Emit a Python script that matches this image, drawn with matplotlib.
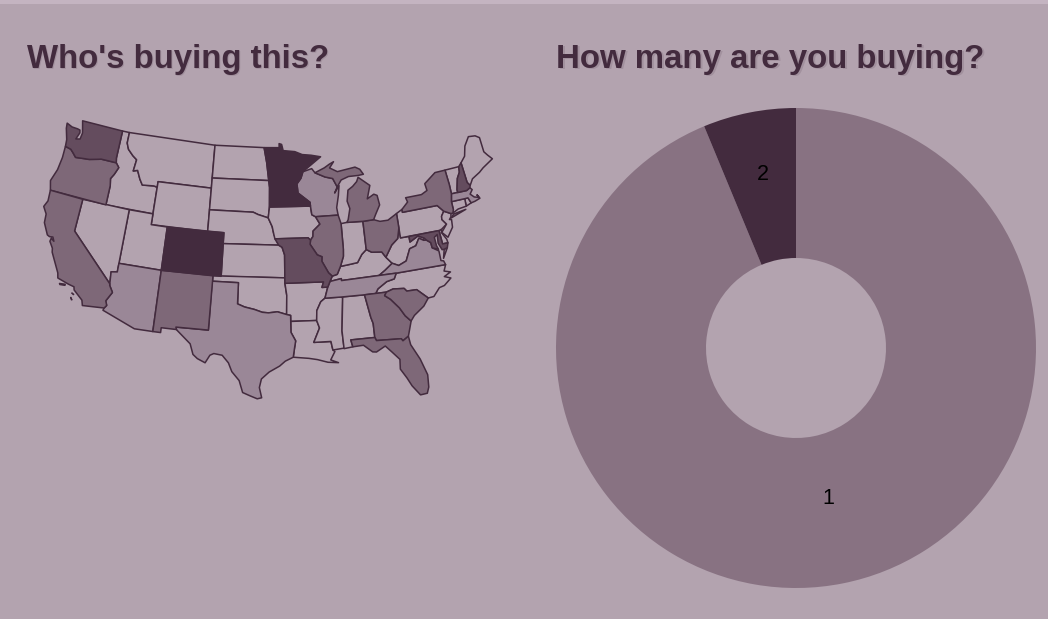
# coding: utf-8

import numpy as np
import matplotlib.pyplot as plt

BG = "#b3a3af"
DARK = "#432b3e"

# Titres et donnut
titles = ["Who's buying this?", "How many are you buying?"]
pie_labels = ["1", "2"]
pie_values = [15, 1]

# Contours des etats (lon, lat), lus a la main
WA = [(-124.7,48.38),(-123.9,48.17),(-123.1,48.15),(-122.75,48.1),(-122.65,47.85),(-122.95,47.2),(-122.4,47.3),(-122.3,47.9),(-122.5,48.4),(-122.75,49),(-117.03,49),(-117.04,46.42),(-116.92,45.99),(-118.98,46),(-119.3,45.93),(-120.5,45.7),(-121.2,45.65),(-122.3,45.55),(-122.8,45.9),(-123.2,46.15),(-124,46.27),(-124.1,46.9),(-124.6,47.9)]
OR = [(-124,46.27),(-123.2,46.15),(-122.8,45.9),(-122.3,45.55),(-121.2,45.65),(-120.5,45.7),(-119.3,45.93),(-118.98,46),(-116.92,45.99),(-116.46,45.6),(-116.85,44.9),(-117.2,44.45),(-117.03,43.8),(-117.03,42),(-124.2,42),(-124.55,42.85),(-124.1,44),(-123.95,45.2)]
ID = [(-117.03,49),(-116.05,49),(-116.05,48),(-115.7,47.45),(-114.95,46.95),(-114.35,46.65),(-114.5,45.57),(-113.95,45.7),(-113.45,44.95),(-113,44.45),(-111.5,44.55),(-111.05,44.48),(-111.05,42),(-117.03,42),(-117.03,43.8),(-117.2,44.45),(-116.85,44.9),(-116.46,45.6),(-116.92,45.99),(-117.04,46.42)]
MT = [(-116.05,49),(-104.05,49),(-104.05,45),(-111.05,45),(-111.05,44.48),(-111.5,44.55),(-113,44.45),(-113.45,44.95),(-113.95,45.7),(-114.5,45.57),(-114.35,46.65),(-114.95,46.95),(-115.7,47.45),(-116.05,48)]
WY = [(-111.05,45),(-104.05,45),(-104.05,41),(-111.05,41)]
ND = [(-104.05,49),(-97.23,49),(-96.85,47.6),(-96.56,45.94),(-104.05,45.94)]
SD = [(-104.05,45.94),(-96.56,45.94),(-96.45,45.3),(-96.45,43.5),(-96.6,42.5),(-97.9,42.8),(-98.5,43),(-104.05,43)]
NE = [(-104.05,43),(-98.5,43),(-97.9,42.8),(-96.6,42.5),(-96.1,41.7),(-95.9,41),(-95.31,40),(-102.05,40),(-102.05,41),(-104.05,41)]
KS = [(-102.05,40),(-95.31,40),(-94.9,39.8),(-94.61,39.1),(-94.62,37),(-102.04,37)]
OK = [(-103,37),(-94.62,37),(-94.62,36.5),(-94.43,35.4),(-94.48,33.64),(-95.5,33.9),(-96.5,33.8),(-97.2,33.85),(-98.1,34.1),(-99.2,34.3),(-100,34.56),(-100,36.5),(-103,36.5)]
TX = [(-103.04,36.5),(-100,36.5),(-100,34.56),(-99.2,34.3),(-98.1,34.1),(-97.2,33.85),(-96.5,33.8),(-95.5,33.9),(-94.48,33.64),(-94.04,33.55),(-94.04,32),(-93.55,31.2),(-93.7,30.5),(-93.85,29.7),(-94.7,29.35),(-95.3,28.9),(-96.4,28.35),(-97.2,27.7),(-97.4,26.9),(-97.15,25.95),(-97.6,25.85),(-98.3,26.1),(-99.1,26.4),(-99.5,27.5),(-100.3,28.3),(-100.7,29.1),(-101.4,29.77),(-102.3,29.88),(-102.7,29.7),(-103.15,28.97),(-104,29.3),(-104.5,29.65),(-104.9,30.6),(-106.5,31.75),(-106.62,32),(-103.06,32)]
NM = [(-109.05,37),(-103,37),(-103,36.5),(-103.06,32),(-106.62,32),(-106.53,31.78),(-108.2,31.78),(-108.2,31.33),(-109.05,31.33)]
CO = [(-109.05,41),(-102.05,41),(-102.05,37),(-109.05,37)]
UT = [(-114.05,42),(-111.05,42),(-111.05,41),(-109.05,41),(-109.05,37),(-114.05,37)]
AZ = [(-114.05,37),(-109.05,37),(-109.05,31.33),(-111.07,31.33),(-114.8,32.5),(-114.72,32.72),(-114.5,33),(-114.7,33.4),(-114.15,34.27),(-114.6,34.85),(-114.63,35),(-114.75,36.1),(-114.05,36.2)]
NV = [(-120,42),(-114.05,42),(-114.05,36.2),(-114.75,36.1),(-114.63,35),(-120,39)]
CA = [(-124.2,42),(-120,42),(-120,39),(-114.63,35),(-114.6,34.85),(-114.15,34.27),(-114.7,33.4),(-114.5,33),(-114.72,32.72),(-117.12,32.53),(-117.3,33),(-118.4,33.75),(-118.5,34.03),(-119.2,34.15),(-120.5,34.45),(-120.65,34.9),(-121.9,36.6),(-122,36.95),(-122.5,37.5),(-122.45,37.8),(-122.05,37.6),(-122.3,37.95),(-122.7,37.9),(-123,38),(-123.75,39),(-123.85,39.8),(-124.4,40.4),(-124.1,41)]
CA_ISLAND_1 = [(-120.2,34.02),(-119.5,34.08),(-119.5,33.95),(-120.1,33.9)]
CA_ISLAND_2 = [(-118.6,33.45),(-118.3,33.35),(-118.35,33.3)]
CA_ISLAND_3 = [(-118.6,33.05),(-118.35,32.82),(-118.45,32.8)]
MN = [(-97.23,49),(-95.15,49),(-95.15,49.38),(-94.8,49.3),(-94.6,48.72),(-93,48.6),(-92,48.3),(-90.8,48.2),(-89.5,48),(-92,46.7),(-92.3,46.1),(-92.85,45.6),(-92.75,44.75),(-91.25,43.85),(-91.22,43.5),(-96.45,43.5),(-96.45,45.3),(-96.56,45.94),(-96.85,47.6)]
IA = [(-96.45,43.5),(-91.22,43.5),(-91.1,42.7),(-90.65,42.5),(-90.15,41.8),(-91.05,41.2),(-91.1,40.7),(-91.42,40.38),(-91.7,40.6),(-95.77,40.58),(-95.9,41),(-96.1,41.7),(-96.6,42.5)]
MO = [(-95.77,40.58),(-91.7,40.6),(-91.42,40.38),(-91.5,40),(-90.7,39),(-90.15,38.8),(-90.2,38.4),(-89.5,37.3),(-89.1,36.97),(-89.4,36.5),(-89.7,36),(-90.37,36),(-90.15,36.5),(-94.62,36.5),(-94.62,37),(-94.61,39.1),(-94.9,39.8),(-95.31,40)]
AR = [(-94.62,36.5),(-90.15,36.5),(-90.37,36),(-89.7,36),(-90.1,35),(-90.6,34.7),(-91.1,33.9),(-91.17,33),(-94.04,33),(-94.04,33.55),(-94.48,33.64),(-94.43,35.4)]
LA = [(-94.04,33),(-91.17,33),(-90.9,32.3),(-91.6,31),(-89.75,31),(-89.6,30.2),(-89.4,30.05),(-89.9,29.3),(-89.1,29),(-90.2,29.1),(-91.3,29.4),(-92.2,29.55),(-93.85,29.7),(-93.7,30.5),(-93.55,31.2),(-94.04,32)]
MS = [(-90.1,35),(-88.2,35),(-88.1,34.9),(-88.47,31.9),(-88.4,30.3),(-89.6,30.2),(-89.75,31),(-91.6,31),(-90.9,32.3),(-91.17,33),(-91.1,33.9),(-90.6,34.7)]
AL = [(-88.2,35),(-85.6,35),(-85.18,32.87),(-85,32.3),(-85,31),(-87.6,31),(-87.45,30.35),(-88.4,30.25),(-88.47,31.9),(-88.1,34.9)]
GA = [(-85.6,35),(-83.1,35),(-83.35,34.7),(-82.75,34.3),(-81.9,33.4),(-81.4,32.6),(-80.85,32.05),(-81.4,30.7),(-82.05,30.36),(-82.2,30.57),(-84.86,30.7),(-85,31),(-85,32.3),(-85.18,32.87)]
FL = [(-87.6,31),(-85,31),(-84.86,30.7),(-82.2,30.57),(-82.05,30.36),(-81.4,30.7),(-81.3,29.9),(-80.55,28.45),(-80.05,26.9),(-80.15,25.75),(-80.4,25.2),(-81.1,25.15),(-81.8,26.1),(-82.2,26.9),(-82.75,27.8),(-82.65,28.7),(-83.4,29.5),(-84,30.1),(-85,29.65),(-85.4,29.7),(-86.3,30.4),(-87.45,30.35)]
SC = [(-83.1,35),(-82.3,35.2),(-81.05,35.1),(-80.8,34.82),(-79.67,34.8),(-78.55,33.86),(-79.2,33.2),(-80.4,32.5),(-80.85,32.05),(-81.4,32.6),(-81.9,33.4),(-82.75,34.3),(-83.35,34.7)]
NC = [(-84.32,35),(-83.1,35),(-82.3,35.2),(-81.05,35.1),(-80.8,34.82),(-79.67,34.8),(-78.55,33.86),(-77.9,33.9),(-77.1,34.6),(-76.5,34.7),(-75.6,35.25),(-76.3,35.5),(-75.5,35.8),(-76.2,36),(-75.87,36.55),(-81.68,36.59),(-82,36.1),(-82.9,35.95),(-84,35.4)]
TN = [(-90.1,35),(-88.2,35),(-85.6,35),(-84.32,35),(-84,35.4),(-82.9,35.95),(-82,36.1),(-81.68,36.59),(-83.68,36.6),(-88.07,36.5),(-88.07,36.68),(-89.4,36.5),(-89.7,36)]
KY = [(-89.4,36.5),(-88.07,36.68),(-88.07,36.5),(-83.68,36.6),(-82.9,37),(-81.97,37.54),(-82.6,38.17),(-83,38.7),(-84.2,38.8),(-84.8,39.1),(-85.4,38.7),(-86,38),(-87,37.9),(-88.05,37.8),(-88.5,37.1),(-89.1,36.97)]
VA = [(-83.68,36.6),(-81.68,36.59),(-75.87,36.55),(-76,36.92),(-76.3,37),(-76.3,37.9),(-77,38.3),(-77.05,38.8),(-77.5,39.1),(-77.83,39.13),(-78.35,39.4),(-78.87,38.77),(-79.65,38.6),(-80.3,37.55),(-81.25,37.25),(-81.97,37.54),(-82.9,37)]
VA_SHORE = [(-75.95,37.15),(-75.25,38.03),(-75.65,37.95)]
WV = [(-81.97,37.54),(-81.25,37.25),(-80.3,37.55),(-79.65,38.6),(-78.87,38.77),(-78.35,39.4),(-77.83,39.13),(-77.72,39.32),(-78.4,39.62),(-79.48,39.2),(-79.48,39.72),(-80.52,39.72),(-80.52,40.64),(-80.87,39.7),(-81.7,39.2),(-82.6,38.17)]
MD = [(-79.48,39.72),(-75.79,39.72),(-75.7,38.46),(-75.05,38.45),(-75.25,38.03),(-75.65,37.95),(-75.9,37.95),(-76.2,38.6),(-76.1,39.4),(-76.5,39.2),(-76.45,38.4),(-76.3,38.05),(-77,38.3),(-77.05,38.8),(-77.5,39.1),(-77.72,39.32),(-78.4,39.62),(-79.48,39.2)]
DE = [(-75.79,39.72),(-75.42,39.8),(-75.55,39.5),(-75.1,38.8),(-75.05,38.45),(-75.7,38.46)]
PA = [(-80.52,41.98),(-79.76,42.27),(-79.76,42),(-75.35,42),(-74.7,41.36),(-75.1,40.95),(-75.15,40.65),(-74.72,40.15),(-75.42,39.8),(-75.79,39.72),(-80.52,39.72)]
NJ = [(-74.7,41.36),(-73.9,41),(-74,40.7),(-74.25,40.5),(-74,40.45),(-74.1,39.75),(-74.9,38.95),(-75.5,39.5),(-74.72,40.15),(-75.15,40.65),(-75.1,40.95)]
NY = [(-79.76,42.27),(-79.76,42),(-75.35,42),(-74.7,41.36),(-73.9,41),(-73.65,41),(-73.5,41.3),(-73.5,42.05),(-73.27,42.75),(-73.25,43.6),(-73.35,45.01),(-74.7,45),(-76.3,44.2),(-76.2,43.55),(-77,43.28),(-79.05,43.27),(-78.9,42.85)]
LONG_ISLAND = [(-74,40.6),(-72,41.05),(-73.6,40.9)]
VT = [(-73.35,45.01),(-71.5,45.01),(-71.6,44.5),(-72.05,44),(-72.45,43),(-72.46,42.73),(-73.27,42.75),(-73.25,43.6)]
NH = [(-71.5,45.01),(-71.08,45.3),(-70.98,43.4),(-70.7,43.07),(-70.82,42.87),(-71.3,42.7),(-72.46,42.73),(-72.45,43),(-72.05,44),(-71.6,44.5)]
ME = [(-71.08,45.3),(-70.4,45.8),(-70,46.7),(-69.2,47.45),(-68.3,47.35),(-67.8,47.07),(-67.8,45.7),(-67.45,45.3),(-67,44.85),(-68.5,44.3),(-69.1,44),(-70.2,43.6),(-70.7,43.07),(-70.98,43.4)]
MA = [(-73.5,42.05),(-73.27,42.75),(-72.46,42.73),(-71.3,42.7),(-70.82,42.87),(-70.6,42.65),(-71,42.3),(-70.6,41.95),(-70.05,41.8),(-70.2,42.07),(-69.95,41.7),(-70.65,41.55),(-71.15,41.5),(-71.38,42.02),(-71.8,42.02)]
RI = [(-71.8,42.02),(-71.38,42.02),(-71.15,41.5),(-71.85,41.32)]
CT = [(-73.5,42.05),(-71.8,42.02),(-71.85,41.32),(-72.9,41.25),(-73.65,41),(-73.5,41.3)]
OH = [(-84.8,41.7),(-83.45,41.73),(-82.7,41.5),(-81.7,41.5),(-80.52,41.98),(-80.52,40.64),(-80.87,39.7),(-81.7,39.2),(-82.6,38.17),(-83,38.7),(-84.2,38.8),(-84.8,39.1)]
IN = [(-87.53,41.7),(-86.8,41.76),(-84.8,41.7),(-84.8,39.1),(-85.4,38.7),(-86,38),(-87,37.9),(-88.05,37.8),(-87.6,38.7),(-87.53,39.35)]
IL = [(-90.65,42.5),(-87.8,42.5),(-87.53,41.7),(-87.53,39.35),(-87.6,38.7),(-88.05,37.8),(-88.5,37.1),(-89.1,36.97),(-89.5,37.3),(-90.2,38.4),(-90.15,38.8),(-90.7,39),(-91.5,40),(-91.42,40.38),(-91.1,40.7),(-91.05,41.2),(-90.15,41.8)]
WI = [(-92,46.7),(-90.8,46.95),(-90.4,46.55),(-89.1,46.1),(-88.1,45.9),(-87.6,45.1),(-88,44.55),(-87.35,45.2),(-87.55,44.3),(-87.9,43.2),(-87.8,42.5),(-90.65,42.5),(-91.1,42.7),(-91.22,43.5),(-91.25,43.85),(-92.75,44.75),(-92.85,45.6),(-92.3,46.1)]
MI_UP = [(-90.4,46.55),(-89.1,46.95),(-88.4,47.25),(-87.8,47.45),(-88.4,46.9),(-87.4,46.5),(-85,46.75),(-84.4,46.5),(-84,46),(-84.7,45.95),(-86,45.95),(-87,45.7),(-87.6,45.1),(-88.1,45.9),(-89.1,46.1)]
MI_LP = [(-84.75,45.78),(-85,45.4),(-85.6,45),(-86.25,44.7),(-86.5,43.7),(-86.25,43),(-86.6,42),(-86.8,41.76),(-84.8,41.7),(-83.45,41.73),(-83.1,42.2),(-82.45,43),(-82.6,43.9),(-83,44.05),(-83.9,43.7),(-83.35,44.9)]

# Niveau de couleur de chaque groupe d'etats
level_colors = [BG, "#9a8797", "#7e6878", "#644c5e", DARK]
level_0 = [ID, MT, WY, ND, SD, NE, KS, OK, UT, NV, IA, AR, LA, MS, AL, NC, KY, WV, DE, PA, NJ, VT, ME, RI, CT, IN]
level_1 = [AZ, TX, WI, VA, VA_SHORE, TN, MA]
level_2 = [OR, CA, NM, GA, SC, FL, OH, NY, LONG_ISLAND, IL, MI_UP, MI_LP]
level_3 = [WA, MO, NH, MD]
level_4 = [MN, CO]
islands = [CA_ISLAND_1, CA_ISLAND_2, CA_ISLAND_3]


# Projection conique d'Albers vers les pixels
def albers(points):
    pts = np.radians(np.array(points))
    lam = pts[:, 0] - np.radians(-96)
    phi = pts[:, 1]
    p1, p2 = np.radians(29.5), np.radians(45.5)
    n = (np.sin(p1) + np.sin(p2)) / 2
    c = np.cos(p1) ** 2 + 2 * n * np.sin(p1)
    rho = np.sqrt(c - 2 * n * np.sin(phi)) / n
    rho0 = np.sqrt(c - 2 * n * np.sin(np.radians(37.5))) / n
    x = rho * np.sin(n * lam)
    y = rho * np.cos(n * lam) - rho0
    return 273 + 622 * x, 272.5 + 620 * y


fig = plt.figure(figsize=(10.48, 6.19), dpi=100, facecolor=BG)
plt.rcParams['font.family'] = ['Liberation Sans', 'DejaVu Sans']

ax = fig.add_axes([0, 0, 1, 1])
ax.set_xlim(0, 1048)
ax.set_ylim(619, 0)
ax.axis("off")
ax.axhspan(0, 4, color="#c4b4c1", lw=0)

for title, x in zip(titles, [27, 556]):
    ax.text(x + 1.5, 69.5, title, fontsize=23.8, fontweight="bold", color=DARK, alpha=0.15)
    ax.text(x, 68, title, fontsize=23.8, fontweight="bold", color=DARK)

levels = [level_0, level_1, level_2, level_3, level_4]
for color, group in zip(level_colors, levels):
    for state in group:
        xs, ys = albers(state)
        ax.fill(xs, ys, facecolor=color, edgecolor=DARK, linewidth=1.1, joinstyle="round")
for island in islands:
    xs, ys = albers(island)
    ax.fill(xs, ys, facecolor=DARK, edgecolor=DARK, linewidth=0.8)

# Donut
ax2 = fig.add_axes([556 / 1048, 1 - 588 / 619, 480 / 1048, 480 / 619])
ax2.pie(pie_values, startangle=90, counterclock=False, radius=1,
        colors=["#887282", DARK], wedgeprops={"width": 0.625, "linewidth": 0})
ax2.set_xlim(-1, 1)
ax2.set_ylim(-1, 1)
ax2.axis("off")

ax2.text(0.133, -0.625, pie_labels[0], fontsize=15.5, color="black", ha="center", va="center")
ax2.text(-0.137, 0.725, pie_labels[1], fontsize=15.5, color="black", ha="center", va="center")

plt.savefig("out.png", dpi=100, facecolor=BG)
